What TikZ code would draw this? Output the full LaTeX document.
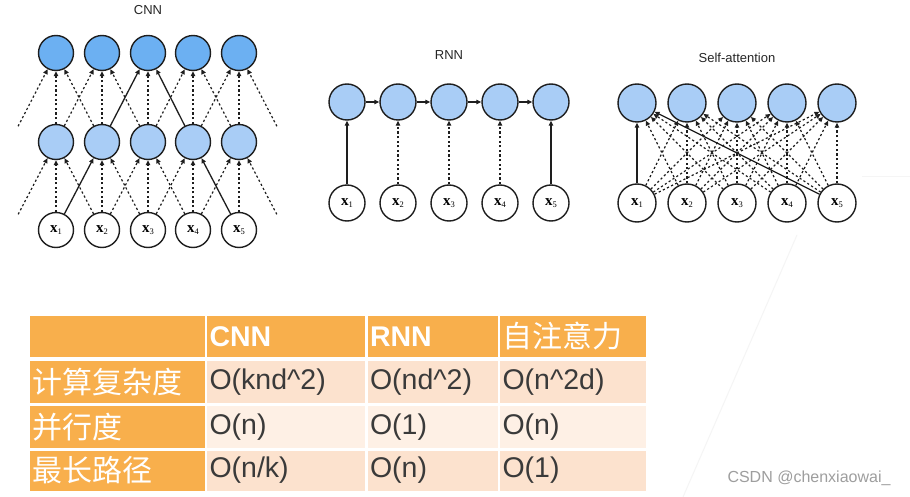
\documentclass[tikz,border=0pt]{standalone}
\usepackage{fontspec}
\setmainfont{Liberation Sans}
\newfontfamily\cjk{Noto Sans CJK SC}
\newfontfamily\serifx{Liberation Serif}
\usetikzlibrary{arrows.meta}
\definecolor{topblue}{HTML}{6CB0F2}
\definecolor{midblue}{HTML}{A9CDF6}
\definecolor{tblorange}{HTML}{F8AF4C}
\definecolor{rowdark}{HTML}{FCE2CE}
\definecolor{rowlight}{HTML}{FEF0E5}
\definecolor{txtgray}{HTML}{3A3A3A}
\definecolor{edgegray}{HTML}{1E1E1E}
\newcommand\xsub[1]{{\serifx\bfseries x}\raisebox{-2.5pt}{\fontsize{8.5}{8.5}\selectfont\serifx #1}}
\begin{document}
\begin{tikzpicture}[x=1pt,y=-1pt,
  cnode/.style={circle,draw=edgegray,line width=1.4pt,inner sep=0pt,font=\fontsize{15}{15}\selectfont},
  ctopn/.style={cnode,fill=topblue,minimum size=35pt},
  cmidn/.style={cnode,fill=midblue,minimum size=35pt},
  cinn/.style={cnode,fill=white,minimum size=35pt},
  ghost/.style={circle,inner sep=0pt,minimum size=35pt},
  rtopn/.style={cnode,fill=midblue,minimum size=36pt},
  rinn/.style={cnode,fill=white,minimum size=36pt},
  stopn/.style={cnode,fill=midblue,minimum size=38pt},
  sinn/.style={cnode,fill=white,minimum size=38pt},
  dotline/.style={draw=edgegray,line width=1.2pt,dash pattern=on 2.2pt off 2.4pt,-{Triangle[length=5pt,width=4.5pt]}},
  solidline/.style={draw=edgegray,line width=1.3pt,-{Triangle[length=5pt,width=4.5pt]}},
  title/.style={font=\fontsize{13}{13}\selectfont,text=black!85},
  cell/.style={anchor=north west,inner xsep=2.5pt,inner ysep=0pt,align=left,outer sep=0pt},
  hdr/.style={cell,fill=tblorange,text=white},
  lat/.style={font=\fontsize{28.5}{28.5}\selectfont},
  zh/.style={font=\fontsize{30}{30}\selectfont\cjk},
]
\useasboundingbox (0,0) rectangle (910,497);
\fill[white] (0,0) rectangle (910,497);
% faint screenshot lines
\draw[black!4,line width=1pt] (797,235) -- (683,497);
\draw[black!4,line width=1pt] (862,177) -- (910,177);

% ---------- CNN ----------
\node[title] (tcnn) at (148,10) {CNN};
\foreach \i/\x in {1/56,2/102,3/148,4/193,5/239} {
  \node[ctopn] (ct\i) at (\x,53) {};
  \node[cmidn] (cm\i) at (\x,142) {};
  \node[cinn] (cx\i) at (\x,230) {\xsub{\i}};
}
\node[ghost] (cm0) at (10,142) {};
\node[ghost] (cm6) at (285,142) {};
\node[ghost] (cx0) at (10,230) {};
\node[ghost] (cx6) at (285,230) {};
\foreach \j/\i in {0/1,1/1,2/1,1/2,2/2,3/2,3/3,3/4,4/4,5/4,4/5,5/5,6/5}
  \draw[dotline] (cm\j) -- (ct\i);
\foreach \j/\i in {2/3,4/3}
  \draw[solidline] (cm\j) -- (ct\i);
\foreach \j/\i in {0/1,1/1,2/1,2/2,3/2,2/3,3/3,4/3,3/4,4/4,4/5,5/5,6/5}
  \draw[dotline] (cx\j) -- (cm\i);
\foreach \j/\i in {1/2,5/4}
  \draw[solidline] (cx\j) -- (cm\i);

% ---------- RNN ----------
\node[title] (trnn) at (449,55) {RNN};
\foreach \i/\x in {1/347,2/398,3/449,4/500,5/551} {
  \node[rtopn] (rt\i) at (\x,102) {};
  \node[rinn] (rx\i) at (\x,203) {\xsub{\i}};
}
\foreach \a/\b in {1/2,2/3,3/4,4/5}
  \draw[solidline] (rt\a) -- (rt\b);
\draw[solidline] (rx1) -- (rt1);
\draw[solidline] (rx5) -- (rt5);
\foreach \i in {2,3,4}
  \draw[dotline] (rx\i) -- (rt\i);

% ---------- Self-attention ----------
\node[title] (tsa) at (737,58) {Self-attention};
\foreach \i/\x in {1/637,2/687,3/737,4/787,5/837} {
  \node[stopn] (st\i) at (\x,103) {};
  \node[sinn] (sx\i) at (\x,203) {\xsub{\i}};
}
\foreach \i in {2,...,5}
  \foreach \j in {1,...,5}
    \draw[dotline] (sx\j) -- (st\i);
\foreach \j in {2,3,4}
  \draw[dotline] (sx\j) -- (st1);
\draw[solidline] (sx1) -- (st1);
\draw[solidline] (sx5) -- (st1);

% ---------- Table ----------
% header row
\node[hdr,minimum width=175pt,minimum height=41pt,text width=170pt] (h0) at (30,316) {};
\node[hdr,lat,minimum width=158pt,minimum height=41pt,text width=153pt] (h1) at (207,316) {\bfseries CNN};
\node[hdr,lat,minimum width=130pt,minimum height=41pt,text width=125pt] (h2) at (367.5,316) {\bfseries RNN};
\node[hdr,zh,minimum width=146pt,minimum height=41pt,text width=141pt] (h3) at (500,316) {自注意力};
% row 1
\node[hdr,zh,minimum width=175pt,minimum height=42pt,text width=170pt] (r1c0) at (30,361) {计算复杂度};
\node[cell,lat,fill=rowdark,text=txtgray,minimum width=158pt,minimum height=42pt,text width=153pt] (r1c1) at (207,361) {O(knd\^{}2)};
\node[cell,lat,fill=rowdark,text=txtgray,minimum width=130pt,minimum height=42pt,text width=125pt] (r1c2) at (367.5,361) {O(nd\^{}2)};
\node[cell,lat,fill=rowdark,text=txtgray,minimum width=146pt,minimum height=42pt,text width=141pt] (r1c3) at (500,361) {O(n\^{}2d)};
% row 2
\node[hdr,zh,minimum width=175pt,minimum height=42.5pt,text width=170pt] (r2c0) at (30,405.5) {并行度};
\node[cell,lat,fill=rowlight,text=txtgray,minimum width=158pt,minimum height=42.5pt,text width=153pt] (r2c1) at (207,405.5) {O(n)};
\node[cell,lat,fill=rowlight,text=txtgray,minimum width=130pt,minimum height=42.5pt,text width=125pt] (r2c2) at (367.5,405.5) {O(1)};
\node[cell,lat,fill=rowlight,text=txtgray,minimum width=146pt,minimum height=42.5pt,text width=141pt] (r2c3) at (500,405.5) {O(n)};
% row 3
\node[hdr,zh,minimum width=175pt,minimum height=40pt,text width=170pt] (r3c0) at (30,450.5) {最长路径};
\node[cell,lat,fill=rowdark,text=txtgray,minimum width=158pt,minimum height=40pt,text width=153pt] (r3c1) at (207,450.5) {O(n/k)};
\node[cell,lat,fill=rowdark,text=txtgray,minimum width=130pt,minimum height=40pt,text width=125pt] (r3c2) at (367.5,450.5) {O(n)};
\node[cell,lat,fill=rowdark,text=txtgray,minimum width=146pt,minimum height=40pt,text width=141pt] (r3c3) at (500,450.5) {O(1)};

% watermark
\node[font=\fontsize{16}{16}\selectfont,text=black!38] (wm) at (809,478) {CSDN @chenxiaowai\_};
\end{tikzpicture}
\end{document}
